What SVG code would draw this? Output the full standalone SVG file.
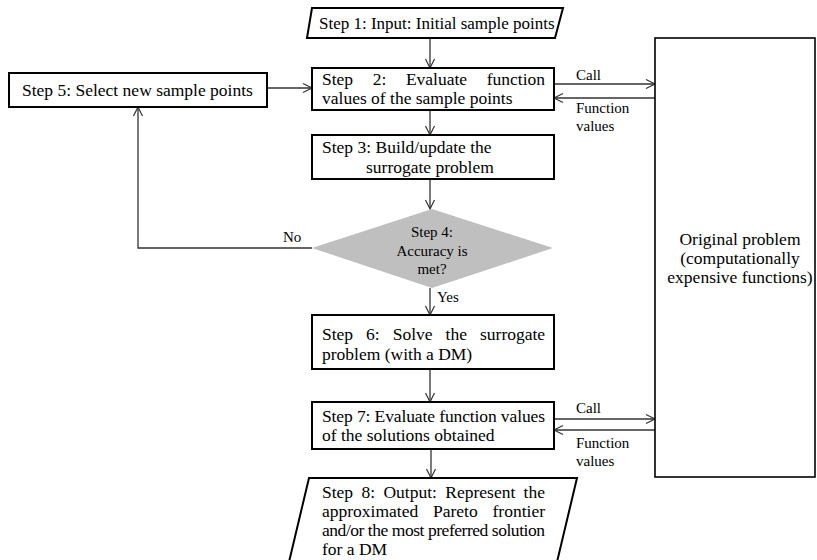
<svg xmlns="http://www.w3.org/2000/svg" width="817" height="560" viewBox="0 0 817 560" font-family="'Liberation Serif', 'Times New Roman', Times, serif">
<defs>
<marker id="arr" markerUnits="userSpaceOnUse" markerWidth="12" markerHeight="12" viewBox="0 0 12 12" refX="10" refY="6" orient="auto">
<path d="M1,1.5 L10,6 L1,10.5" fill="none" stroke="#333" stroke-width="1.2"/>
</marker>
<style>
.box{fill:#fff;stroke:#000;stroke-width:2}
.big{fill:#fff;stroke:#000;stroke-width:1.6}
.t{font-family:'Liberation Serif','Times New Roman',Times,serif;font-size:17.5px;fill:#000}
.s{font-family:'Liberation Serif','Times New Roman',Times,serif;font-size:15px;fill:#000}
.c{fill:none;stroke:#333;stroke-width:1.3}
</style>
</defs>
<rect width="817" height="560" fill="#fff"/>

<g id="connectors">
<line class="c" x1="430" y1="38" x2="430" y2="68" marker-end="url(#arr)"/>
<line class="c" x1="430" y1="110" x2="430" y2="135" marker-end="url(#arr)"/>
<line class="c" x1="430" y1="179" x2="430" y2="209" marker-end="url(#arr)"/>
<line class="c" x1="430" y1="288" x2="430" y2="315" marker-end="url(#arr)"/>
<line class="c" x1="430" y1="369" x2="430" y2="402" marker-end="url(#arr)"/>
<line class="c" x1="431" y1="449" x2="431" y2="478" marker-end="url(#arr)"/>
<line class="c" x1="267" y1="88" x2="312" y2="88" marker-end="url(#arr)"/>
<polyline class="c" points="312,248 138,248 138,107" marker-end="url(#arr)"/>
<line class="c" x1="554" y1="84" x2="655" y2="84" marker-end="url(#arr)"/>
<line class="c" x1="655" y1="98" x2="554" y2="98" marker-end="url(#arr)"/>
<line class="c" x1="554" y1="419" x2="655" y2="419" marker-end="url(#arr)"/>
<line class="c" x1="655" y1="430" x2="554" y2="430" marker-end="url(#arr)"/>
<text class="s" x="576" y="80">Call</text>
<text class="s" x="576" y="113">Function</text>
<text class="s" x="576" y="131">values</text>
<text class="s" x="576" y="413">Call</text>
<text class="s" x="576" y="448">Function</text>
<text class="s" x="576" y="466">values</text>
<text class="s" x="283" y="242">No</text>
<text class="s" x="437" y="302">Yes</text>
</g>

<g id="step1">
<polygon class="box" points="312,8 563,8 555,38 307,38"/>
<text class="t" x="319" y="29" style="font-size:17px">Step 1: Input: Initial sample points</text>
</g>

<g id="step2">
<rect class="box" x="312" y="68" width="242" height="42"/>
<text class="t" y="85"><tspan x="322">Step</tspan><tspan x="372.7">2:</tspan><tspan x="405.9">Evaluate</tspan><tspan x="486.7">function</tspan></text>
<text class="t" x="322" y="104">values of the sample points</text>
</g>

<g id="step3">
<rect class="box" x="312" y="135" width="242" height="44"/>
<text class="t" x="322" y="153">Step 3: Build/update the</text>
<text class="t" x="366" y="173">surrogate problem</text>
</g>

<g id="step4">
<polygon points="312,248 432,209 553,248 432,288" fill="#bfbfbf"/>
<text class="s" x="432" y="237" text-anchor="middle">Step 4:</text>
<text class="s" x="432" y="256" text-anchor="middle">Accuracy is</text>
<text class="s" x="432" y="274" text-anchor="middle">met?</text>
</g>

<g id="step5">
<rect class="box" x="9" y="73" width="258" height="34"/>
<text class="t" x="22" y="96">Step 5: Select new sample points</text>
</g>

<g id="step6">
<rect class="box" x="312" y="315" width="242" height="54"/>
<text class="t" y="340"><tspan x="322">Step</tspan><tspan x="366.1">6:</tspan><tspan x="392.7">Solve</tspan><tspan x="445.6">the</tspan><tspan x="480">surrogate</tspan></text>
<text class="t" x="322" y="360">problem (with a DM)</text>
</g>

<g id="step7">
<rect class="box" x="312" y="402" width="242" height="47"/>
<text class="t" x="322" y="422" textLength="223" lengthAdjust="spacing">Step 7: Evaluate function values</text>
<text class="t" x="322" y="441">of the solutions obtained</text>
</g>

<g id="step8">
<polygon class="box" points="309,478 577,478 557,562 289,562"/>
<text class="t" y="498"><tspan x="322">Step</tspan><tspan x="361.5">8:</tspan><tspan x="383.4">Output:</tspan><tspan x="445.3">Represent</tspan><tspan x="523.6">the</tspan></text>
<text class="t" y="517"><tspan x="322">approximated</tspan><tspan x="433">Pareto</tspan><tspan x="492.5">frontier</tspan></text>
<text class="t" x="322" y="536" textLength="223" lengthAdjust="spacing">and/or the most preferred solution</text>
<text class="t" x="322" y="555">for a DM</text>
</g>

<g id="original">
<rect class="big" x="655" y="38" width="160" height="439"/>
<text class="t" x="740" y="245" text-anchor="middle">Original problem</text>
<text class="t" x="740" y="264" text-anchor="middle">(computationally</text>
<text class="t" x="740" y="283" text-anchor="middle">expensive functions)</text>
</g>
</svg>
